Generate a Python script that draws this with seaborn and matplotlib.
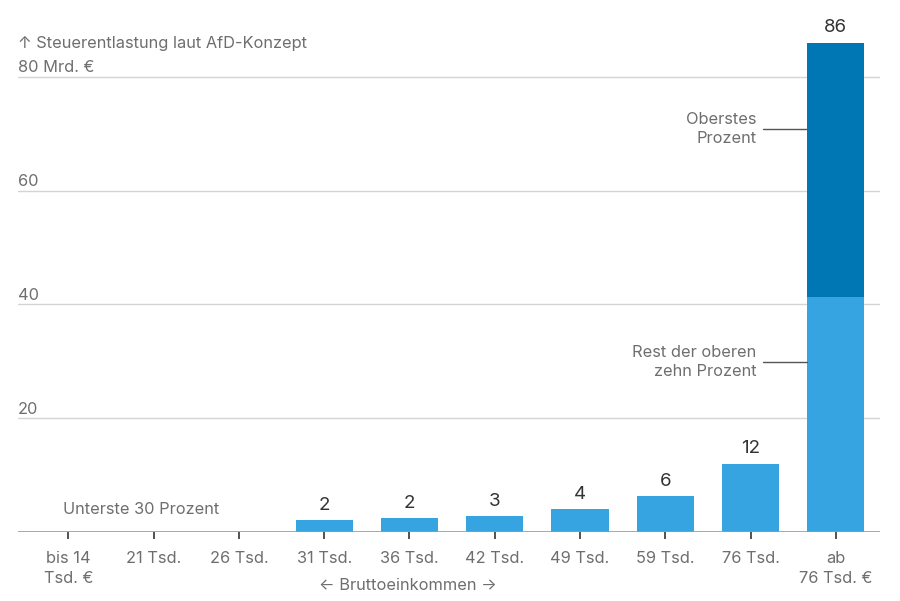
import matplotlib
matplotlib.use("Agg")
import matplotlib.pyplot as plt
import seaborn as sns
import pandas as pd

categories = ["bis 14\nTsd. €", "21 Tsd.", "26 Tsd.", "31 Tsd.", "36 Tsd.", "42 Tsd.",
              "49 Tsd.", "59 Tsd.", "76 Tsd.", "ab\n76 Tsd. €"]
rest_values = [0, 0, 0, 2.1, 2.5, 2.8, 4.0, 6.3, 12.0, 41.3]
top_pct_values = [0, 0, 0, 0, 0, 0, 0, 0, 0, 44.7]
value_labels = ["", "", "", "2", "2", "3", "4", "6", "12", "86"]
y_ticks = [20, 40, 60, 80]
y_tick_labels = ["20", "40", "60", "80 Mrd. €"]

df = pd.DataFrame({"cat": categories, "rest": rest_values, "top": top_pct_values})
df["total"] = df["rest"] + df["top"]

sns.set_theme(style="white")
plt.rcParams["font.family"] = ["Inter", "DejaVu Sans"]

LIGHT = "#36a4e1"
DARK = "#0077b5"
GRAY = "#6e6e6e"
FS = 11.8

fig = plt.figure(figsize=(9, 6.01), dpi=100)
ax = fig.add_axes([0.02, 0.1148, 0.958, 0.852])

sns.barplot(data=df, x="cat", y="total", color=DARK, width=0.67, ax=ax,
            saturation=1, order=categories, linewidth=0)
sns.barplot(data=df, x="cat", y="rest", color=LIGHT, width=0.67, ax=ax,
            saturation=1, order=categories, linewidth=0)

ax.set_xlim(-0.59, 9.52)
ax.set_ylim(0, 90)

# gridlines
for t in y_ticks:
    ax.axhline(t, color="#d4d4d4", lw=1, zorder=0)
ax.axhline(0, color="#9a9a9a", lw=1.2, zorder=3)

for s in ax.spines.values():
    s.set_visible(False)

ax.set_yticks([])
ax.set_xlabel("← Bruttoeinkommen →", fontsize=FS, color=GRAY)
ax.set_ylabel("")
ax.xaxis.set_label_coords(0.452, -0.09)
ax.set_xticks(range(len(categories)))
ax.set_xticklabels(categories, fontsize=FS, color=GRAY, linespacing=1.35)
ax.tick_params(axis="x", length=5, width=1.2, color="#333333", pad=9, bottom=True)

# y tick labels above gridlines
trans = ax.get_yaxis_transform()
for t, lab in zip(y_ticks, y_tick_labels):
    ax.text(0.0, t + 0.3, lab, transform=trans, ha="left", va="bottom",
            fontsize=FS, color=GRAY)
ax.text(0.0, 84.5, "↑ Steuerentlastung laut AfD-Konzept", transform=trans,
        ha="left", va="bottom", fontsize=FS, color=GRAY)

# value labels
for i, (v, lab) in enumerate(zip(df["total"], value_labels)):
    if lab:
        ax.text(i, v + 1.1, lab, ha="center", va="bottom", fontsize=13.5, color="#333333")

ax.text(0.85, 3.9, "Unterste 30 Prozent", ha="center", va="center", fontsize=FS, color=GRAY)

# annotations for the last bar
ax.text(8.07, 70.8, "Oberstes\nProzent", ha="right", va="center", fontsize=FS,
        color=GRAY, linespacing=1.35)
ax.plot([8.14, 8.665], [70.8, 70.8], color="#555555", lw=1)
ax.text(8.07, 29.9, "Rest der oberen\nzehn Prozent", ha="right", va="center", fontsize=FS,
        color=GRAY, linespacing=1.35)
ax.plot([8.14, 8.665], [29.9, 29.9], color="#555555", lw=1)

fig.savefig("out.png", dpi=100)
